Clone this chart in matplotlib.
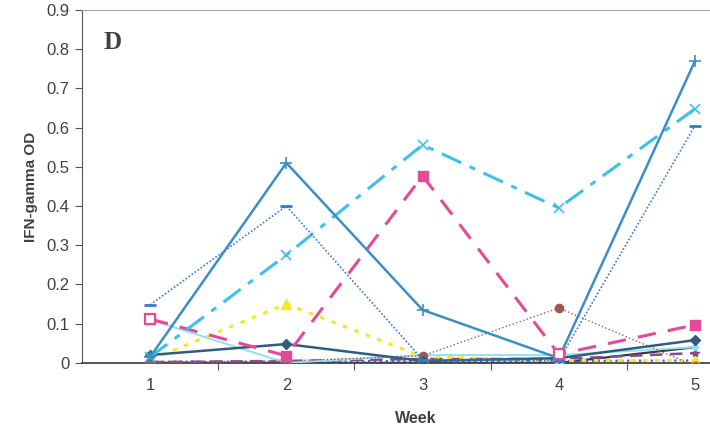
import matplotlib
matplotlib.use("Agg")
import matplotlib.pyplot as plt

weeks = [1, 2, 3, 4, 5]

# one list per animal, IFN-gamma OD by week
s_steel = [0.015, 0.51, 0.135, 0.012, 0.77]
s_bluedot = [0.148, 0.40, 0.008, 0.006, 0.605]
s_dashdot = [0.015, 0.275, 0.556, 0.395, 0.648]
s_pink = [0.112, 0.018, 0.477, 0.022, 0.097]
s_yellow = [0.008, 0.15, 0.016, 0.006, 0.006]
s_slate = [0.02, 0.048, 0.005, 0.012, 0.058]
s_brown = [0.002, 0.005, 0.018, 0.14, -0.008]
s_cyan = [0.11, 0.0, 0.02, 0.02, 0.04]
s_purple = [0.002, 0.005, 0.01, 0.01, 0.025]
s_black = [0.0, 0.0, 0.0, 0.0, 0.04]
s_navydot = [0.003, 0.003, 0.005, 0.005, 0.006]

yticks = [0, 0.1, 0.2, 0.3, 0.4, 0.5, 0.6, 0.7, 0.8, 0.9]
ytick_labels = ["0", "0.1", "0.2", "0.3", "0.4", "0.5", "0.6", "0.7", "0.8", "0.9"]

plt.rcParams['font.family'] = ['Liberation Sans', 'DejaVu Sans']
txt = '#3f4144'

fig = plt.figure(figsize=(7.1, 4.32), dpi=100)
ax = fig.add_axes([0.1155, 0.16, 0.8845, 0.817])

ax.plot(weeks, s_black, color='#3a3a3a', lw=1.6, zorder=2)
ax.plot(weeks, s_navydot, color='#3366cc', lw=1.6, ls=':', marker='s', ms=2.5, zorder=2)
ax.plot(weeks, s_purple, color='#8a4a8a', lw=1.8, ls=(0, (5, 3)), marker='*', ms=6, zorder=3)
ax.plot(weeks, s_cyan, color='#8fe3f0', lw=1.4, marker='o', ms=4, zorder=3)
ax.plot(weeks, s_brown, color='#a05a5a', lw=1.0, ls=':', marker='o', ms=6,
        markerfacecolor='#9a5a50', zorder=4)
ax.plot(weeks, s_slate, color='#2f5c80', lw=1.8, marker='D', ms=5, zorder=4)
ax.plot(weeks, s_yellow, color='#f5e626', lw=2.2, ls=(0, (1.5, 2.5)), marker='^', ms=7, zorder=3)
ax.plot(weeks, s_pink, color='#e24b95', lw=2.2, ls=(0, (6, 4)), marker='s', ms=6.5, zorder=4)
# open squares at weeks 1 and 4
ax.plot([weeks[0], weeks[3]], [s_pink[0], s_pink[3]], ls='none', marker='s', ms=6.5,
        mfc='white', mec='#e24b95', mew=1.6, zorder=6)
ax.plot(weeks, s_dashdot, color='#3ec0ea', lw=2.2, ls=(0, (7, 3, 2, 3)), marker='x', ms=7,
        mew=1.2, zorder=4)
ax.plot(weeks, s_bluedot, color='#3a78d0', lw=1.2, ls=(0, (1, 1.2)), marker='_', ms=8,
        mew=2, zorder=4)
ax.plot(weeks, s_steel, color='#3b8ec6', lw=1.8, marker='+', ms=8, mew=1.2, zorder=5)

ax.set_xlim(0.5, 5.11)
ax.set_ylim(0, 0.9)
ax.set_yticks(yticks)
ax.set_yticklabels(ytick_labels, fontsize=12, color=txt)
ax.set_xticks([1.5, 2.5, 3.5, 4.5])
ax.set_xticklabels([])
ax.set_xticks(weeks, minor=True)
ax.set_xticklabels([str(w) for w in weeks], minor=True, fontsize=12, color=txt)
ax.tick_params(axis='x', which='minor', length=0, pad=11)
ax.tick_params(axis='x', which='major', length=5, color='#555555', direction='out')
ax.tick_params(axis='y', length=5, color='#555555', direction='out', pad=4)

ax.spines['right'].set_visible(False)
ax.spines['top'].set_color('#9aaac4')
ax.spines['top'].set_linewidth(0.8)
ax.spines['left'].set_color('#555555')
ax.spines['bottom'].set_color('#444444')
ax.spines['bottom'].set_linewidth(1.3)

ax.set_ylabel('IFN-gamma OD', fontsize=11, fontweight='bold', color=txt, labelpad=6)
ax.set_xlabel('Week', fontsize=11.5, fontweight='bold', color=txt)
ax.xaxis.set_label_coords(0.532, -0.135)
ax.text(0.66, 0.80, 'D', fontsize=18, fontweight='bold', family='Liberation Serif', color=txt)

fig.savefig('out.png', dpi=100)
